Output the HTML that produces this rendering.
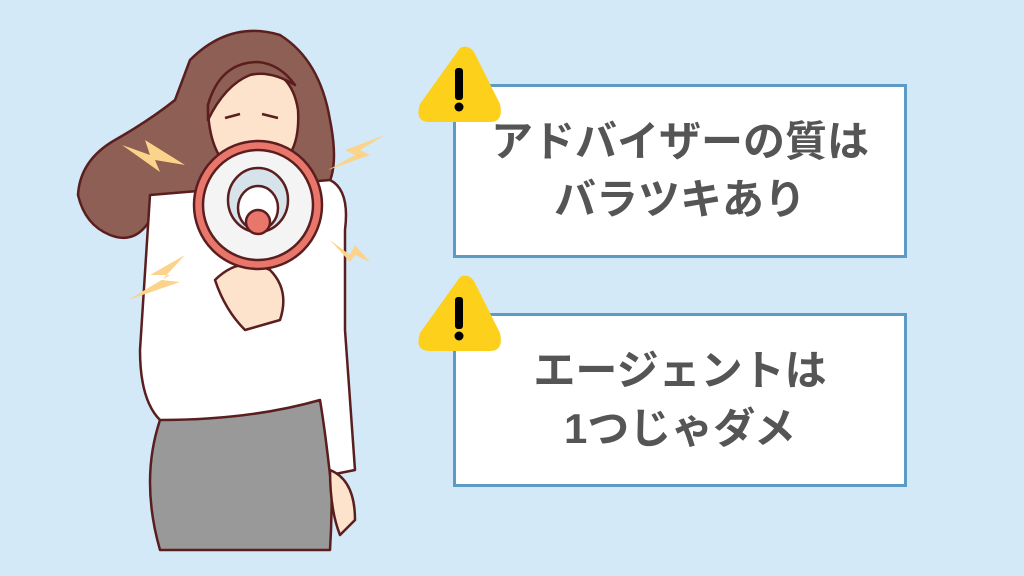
<!DOCTYPE html>
<html><head><meta charset="utf-8"><style>
body{margin:0;width:1024px;height:576px;background:#d3e9f7;position:relative;overflow:hidden;font-family:"Liberation Sans","Noto Sans CJK JP",sans-serif}
.box{position:absolute;left:453px;width:448px;background:#fff;border:3px solid #5b9bc4;display:flex;align-items:center;justify-content:center;text-align:center;color:#555;font-weight:bold;font-size:42px;line-height:58px}
svg{position:absolute;left:0;top:0}
</style></head><body>
<svg width="1024" height="576" viewBox="0 0 1024 576">
<g stroke="#5a1e1e" stroke-width="2.5" stroke-linejoin="round">
<path d="M190 60 Q230 20 280 35 Q320 60 330 120 Q340 170 325 190 L300 200 L200 190 Q170 200 150 220 Q135 245 110 235 Q85 225 78 195 Q80 160 115 140 Q150 120 175 100 Z" fill="#8e5f55"/>
<path d="M160 420 L325 400 Q335 470 330 550 L160 550 Q140 480 160 420 Z" fill="#999"/>
<path d="M150 195 L330 180 Q350 190 345 230 L345 330 Q350 400 355 470 L330 475 Q325 430 320 400 Q250 420 160 420 Q140 400 140 350 Z" fill="#fff"/>
<path d="M208 105 Q218 68 255 66 Q292 70 298 110 Q300 145 285 160 L222 160 Q208 140 208 105 Z" fill="#fde2cc"/>
<path d="M208 105 Q220 62 258 62 Q280 64 295 85 Q270 70 250 75 Q225 85 208 120 Z" fill="#8e5f55"/>
<path d="M225 118 L240 114 M262 114 L278 118" fill="none"/>
<path d="M215 280 Q240 255 270 270 Q290 290 280 320 L245 330 Q225 310 215 280 Z" fill="#fde2cc"/>
<path d="M330 470 Q355 480 355 520 L340 535 Q330 510 330 470 Z" fill="#fde2cc"/>
<circle cx="258" cy="205" r="64" fill="#e8766a"/>
<circle cx="258" cy="205" r="55" fill="#f4f4f4"/>
<ellipse cx="258" cy="200" rx="30" ry="32" fill="#d6e3ea"/>
<ellipse cx="258" cy="208" rx="20" ry="22" fill="#fff"/>
<circle cx="258" cy="222" r="12" fill="#e8766a"/>
</g>
<g fill="#fbd38a">
<path d="M122 145 L150 155 L145 140 L185 165 L155 160 L160 172 Z"/>
<path d="M385 135 L345 150 L355 155 L328 170 L370 155 L360 150 Z"/>
<path d="M185 255 L150 275 L170 275 L128 300 L180 282 L162 280 Z"/>
<path d="M330 240 L350 255 L355 245 L370 262 L355 255 L350 262 Z"/>
</g>
</svg>
<div class="box" style="top:84px;height:168px">アドバイザーの質は<br>バラツキあり</div>
<div class="box" style="top:313px;height:168px">エージェントは<br>1つじゃダメ</div>
<svg width="1024" height="576" viewBox="0 0 1024 576">
<path d="M460 48 Q468 44 474 52 L500 104 Q504 122 490 122 L430 122 Q414 122 420 104 Z" fill="#fdd01c"/>
<rect x="455" y="68" width="8" height="32" rx="3" fill="#000"/>
<circle cx="459" cy="107" r="4.5" fill="#000"/>
<path d="M460 277 Q468 273 474 281 L500 333 Q504 351 490 351 L430 351 Q414 351 420 333 Z" fill="#fdd01c"/>
<rect x="455" y="297" width="8" height="32" rx="3" fill="#000"/>
<circle cx="459" cy="336" r="4.5" fill="#000"/>
</svg>
</body></html>
